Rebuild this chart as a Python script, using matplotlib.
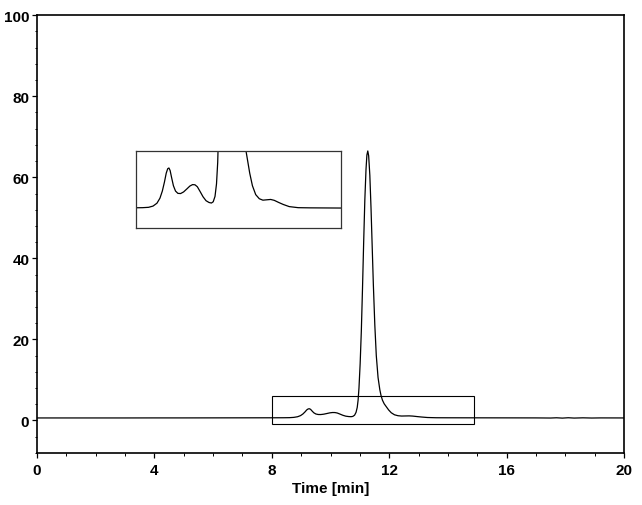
import numpy as np
import matplotlib
matplotlib.use("Agg")
import matplotlib.pyplot as plt
from matplotlib.patches import Rectangle
from matplotlib.ticker import MultipleLocator

plt.rcParams['font.family'] = ['Liberation Sans', 'DejaVu Sans']

# chromatogram (time in min, signal)
time = [0.0, 1.0, 2.0, 3.0, 4.0, 5.0, 6.0, 7.0, 8.0, 8.4, 8.6, 8.75, 8.88, 8.98,
        9.06, 9.13, 9.19, 9.24, 9.28, 9.32, 9.37, 9.43, 9.50, 9.58, 9.67, 9.77,
        9.88, 9.98, 10.07, 10.15, 10.23, 10.32, 10.42, 10.52, 10.62, 10.70, 10.76,
        10.82, 10.87, 10.91, 10.94, 10.97, 11.01, 11.05, 11.09, 11.13, 11.17,
        11.21, 11.24, 11.27, 11.30, 11.34, 11.38, 11.42, 11.46, 11.51, 11.56,
        11.62, 11.68, 11.72, 11.77, 11.83, 11.90, 11.98, 12.07, 12.18, 12.30, 12.42,
        12.55, 12.68, 12.80, 12.95, 13.10, 13.30, 13.60, 14.0, 15.0, 16.0, 17.0,
        17.5, 17.7, 17.9, 18.1, 18.3, 18.6, 18.9, 19.2, 20.0]
signal = [0.62, 0.62, 0.62, 0.62, 0.63, 0.63, 0.64, 0.65, 0.66, 0.67, 0.69, 0.76, 0.92, 1.20,
          1.60, 2.10, 2.60, 2.85, 2.89, 2.75, 2.35, 1.90, 1.60, 1.47, 1.46, 1.55,
          1.72, 1.88, 1.96, 1.95, 1.84, 1.58, 1.28, 1.06, 0.96, 0.93, 1.00,
          1.30, 2.00, 3.20, 5.00, 8.00, 14.0, 22.0, 32.5, 44.0, 54.5,
          62.0, 65.5, 66.5, 65.3, 60.5, 52.5, 43.0, 33.5, 23.5, 16.0,
          10.6, 7.6, 6.2, 5.0, 4.1, 3.4, 2.6, 1.9, 1.4, 1.17, 1.09,
          1.11, 1.13, 1.08, 0.96, 0.85, 0.73, 0.67, 0.66, 0.65, 0.64, 0.63,
          0.60, 0.66, 0.58, 0.67, 0.59, 0.65, 0.60, 0.63, 0.62]

# zoom region marked on the main plot, and the limits of the inset
zoom_x = [8.0, 14.9]
zoom_y = [-0.8, 6.0]
inset_x = [8.17, 15.03]
inset_y = [-0.45, 3.84]

fig = plt.figure(figsize=(6.42, 5.06), dpi=100)
ax = fig.add_axes([0.0576, 0.103, 0.9144, 0.865])
ax.plot(time, signal, color='black', lw=0.9)
ax.add_patch(Rectangle((zoom_x[0], zoom_y[0]), zoom_x[1] - zoom_x[0], zoom_y[1] - zoom_y[0],
                       fill=False, edgecolor='black', lw=0.8))
ax.set_xlim(0, 20)
ax.set_ylim(-8, 100)
ax.xaxis.set_major_locator(MultipleLocator(4))
ax.xaxis.set_minor_locator(MultipleLocator(1))
ax.yaxis.set_major_locator(MultipleLocator(20))
ax.yaxis.set_minor_locator(MultipleLocator(4))
ax.tick_params(which='major', direction='out', length=3.5, width=0.9, labelsize=11, pad=2)
ax.tick_params(which='minor', direction='out', length=1.8, width=0.7)
ax.tick_params(axis='x', which='major', pad=4)
for lab in ax.get_xticklabels() + ax.get_yticklabels():
    lab.set_fontweight('bold')
for s in ax.spines.values():
    s.set_linewidth(1.2)
ax.set_xlabel('Time [min]', fontsize=11, fontweight='bold', labelpad=3)

# inset
axin = fig.add_axes([135.7 / 642, 1 - 228.7 / 506, (341 - 135.7) / 642, (228.7 - 152) / 506])
axin.plot(time, signal, color='black', lw=0.9)
axin.set_xlim(inset_x)
axin.set_ylim(inset_y)
axin.set_xticks([])
axin.set_yticks([])
for s in axin.spines.values():
    s.set_linewidth(0.9)
    s.set_edgecolor('#333333')

fig.savefig('out.png', dpi=100)
